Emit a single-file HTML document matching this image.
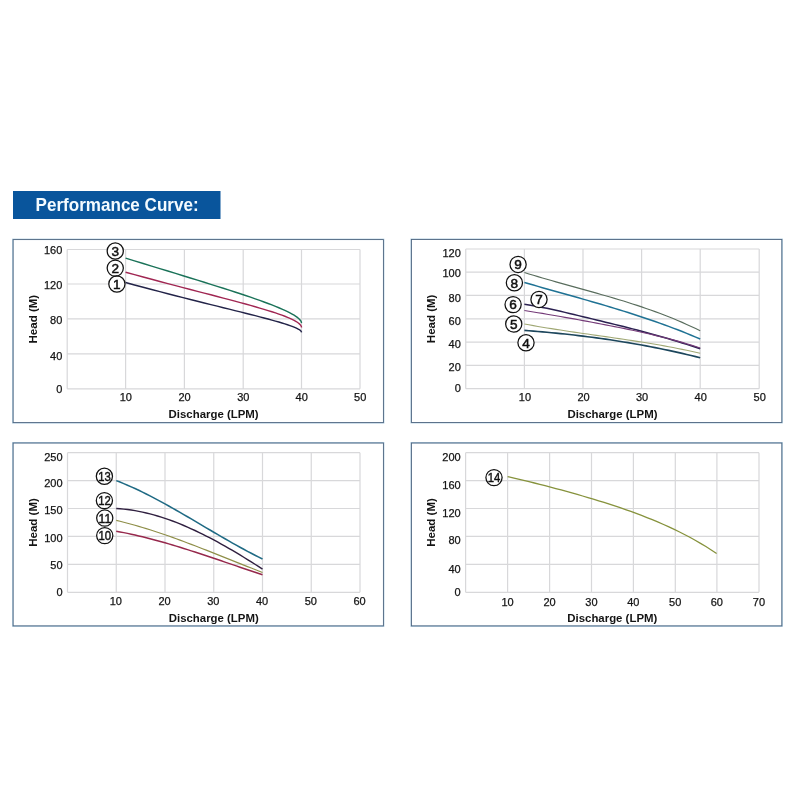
<!DOCTYPE html>
<html lang="en"><head><meta charset="utf-8"><title>Performance Curve</title>
<style>
html,body{margin:0;padding:0;background:#fff;}
body{width:800px;height:800px;overflow:hidden;}
svg{display:block;font-family:"Liberation Sans",sans-serif;}
</style></head><body>
<svg width="800" height="800" viewBox="0 0 800 800">
<rect width="800" height="800" fill="#ffffff"/>
<rect x="13" y="191" width="207.5" height="28" fill="#09559c"/>
<text x="35.6" y="211" font-size="18.2" font-weight="bold" fill="#f4fbff" textLength="163" lengthAdjust="spacingAndGlyphs">Performance Curve:</text>
<rect x="12.85" y="239.35" width="370.80" height="183.50" fill="#fff" stroke="#a9c8dc" stroke-width="1.4"/>
<rect x="13.10" y="239.60" width="370.30" height="183.00" fill="none" stroke="#4f647e" stroke-width="0.85"/>
<path d="M67.20 249.50V388.80M125.60 249.50V388.80M184.40 249.50V388.80M243.20 249.50V388.80M301.50 249.50V388.80M360.00 249.50V388.80M67.20 249.50H360.00M67.20 284.00H360.00M67.20 318.90H360.00M67.20 353.90H360.00M67.20 388.80H360.00" stroke="#d8d8da" stroke-width="1.2" fill="none"/>
<text x="62.30" y="254.10" text-anchor="end" font-size="11" fill="#141414" stroke="#141414" stroke-width="0.25">160</text>
<text x="62.30" y="288.55" text-anchor="end" font-size="11" fill="#141414" stroke="#141414" stroke-width="0.25">120</text>
<text x="62.30" y="324.05" text-anchor="end" font-size="11" fill="#141414" stroke="#141414" stroke-width="0.25">80</text>
<text x="62.30" y="359.75" text-anchor="end" font-size="11" fill="#141414" stroke="#141414" stroke-width="0.25">40</text>
<text x="62.30" y="392.55" text-anchor="end" font-size="11" fill="#141414" stroke="#141414" stroke-width="0.25">0</text>
<text x="125.75" y="401.30" text-anchor="middle" font-size="11" fill="#141414" stroke="#141414" stroke-width="0.25">10</text>
<text x="184.55" y="401.30" text-anchor="middle" font-size="11" fill="#141414" stroke="#141414" stroke-width="0.25">20</text>
<text x="243.35" y="401.30" text-anchor="middle" font-size="11" fill="#141414" stroke="#141414" stroke-width="0.25">30</text>
<text x="301.65" y="401.30" text-anchor="middle" font-size="11" fill="#141414" stroke="#141414" stroke-width="0.25">40</text>
<text x="360.15" y="401.30" text-anchor="middle" font-size="11" fill="#141414" stroke="#141414" stroke-width="0.25">50</text>
<text x="213.60" y="418.20" text-anchor="middle" font-size="11.5" font-weight="bold" fill="#141414" textLength="90" lengthAdjust="spacingAndGlyphs">Discharge (LPM)</text>
<text transform="translate(36.75 319.15) rotate(-90)" text-anchor="middle" font-size="11.5" font-weight="bold" fill="#141414" textLength="48.6" lengthAdjust="spacingAndGlyphs">Head (M)</text>
<path d="M125.60 282.53 L134.50 284.96 L143.18 287.29 L151.62 289.53 L159.83 291.68 L167.81 293.75 L175.56 295.75 L183.08 297.66 L190.36 299.50 L197.42 301.27 L204.24 302.98 L210.83 304.61 L217.19 306.19 L223.32 307.70 L229.22 309.16 L234.89 310.57 L240.32 311.92 L245.53 313.22 L250.50 314.47 L255.24 315.67 L259.75 316.83 L264.03 317.95 L268.08 319.03 L271.89 320.07 L275.48 321.07 L278.83 322.03 L281.96 322.96 L284.85 323.85 L287.51 324.72 L289.94 325.55 L292.13 326.35 L294.10 327.12 L295.83 327.86 L297.34 328.58 L298.61 329.26 L299.65 329.92 L300.46 330.56 L301.04 331.16 L301.38 331.75 L301.50 332.30" stroke="#222348" stroke-width="1.40" fill="none" stroke-linejoin="round"/>
<path d="M125.60 272.27 L134.50 274.69 L143.18 277.03 L151.62 279.29 L159.83 281.47 L167.81 283.58 L175.56 285.61 L183.08 287.57 L190.36 289.47 L197.42 291.31 L204.24 293.08 L210.83 294.80 L217.19 296.46 L223.32 298.07 L229.22 299.63 L234.89 301.14 L240.32 302.61 L245.53 304.03 L250.50 305.41 L255.24 306.75 L259.75 308.06 L264.03 309.33 L268.08 310.56 L271.89 311.76 L275.48 312.93 L278.83 314.07 L281.96 315.19 L284.85 316.27 L287.51 317.33 L289.94 318.37 L292.13 319.38 L294.10 320.37 L295.83 321.33 L297.34 322.28 L298.61 323.20 L299.65 324.10 L300.46 324.98 L301.04 325.85 L301.38 326.69 L301.50 327.51" stroke="#a02652" stroke-width="1.40" fill="none" stroke-linejoin="round"/>
<path d="M125.60 258.12 L134.50 260.85 L143.18 263.51 L151.62 266.09 L159.83 268.60 L167.81 271.04 L175.56 273.41 L183.08 275.72 L190.36 277.96 L197.42 280.14 L204.24 282.25 L210.83 284.31 L217.19 286.31 L223.32 288.26 L229.22 290.15 L234.89 291.99 L240.32 293.77 L245.53 295.51 L250.50 297.20 L255.24 298.84 L259.75 300.43 L264.03 301.98 L268.08 303.49 L271.89 304.95 L275.48 306.37 L278.83 307.75 L281.96 309.09 L284.85 310.39 L287.51 311.65 L289.94 312.88 L292.13 314.06 L294.10 315.21 L295.83 316.33 L297.34 317.40 L298.61 318.45 L299.65 319.45 L300.46 320.43 L301.04 321.36 L301.38 322.27 L301.50 323.14" stroke="#1a7258" stroke-width="1.40" fill="none" stroke-linejoin="round"/>
<circle cx="115.25" cy="251.00" r="8.1" fill="#fff"/>
<circle cx="115.25" cy="268.10" r="8.1" fill="#fff"/>
<circle cx="116.90" cy="284.00" r="8.1" fill="#fff"/>
<circle cx="115.25" cy="251.00" r="8.1" fill="none" stroke="#111" stroke-width="1.25"/>
<text x="115.25" y="255.85" text-anchor="middle" font-size="13.6" fill="#111" stroke="#111" stroke-width="0.5">3</text>
<circle cx="115.25" cy="268.10" r="8.1" fill="none" stroke="#111" stroke-width="1.25"/>
<text x="115.25" y="272.95" text-anchor="middle" font-size="13.6" fill="#111" stroke="#111" stroke-width="0.5">2</text>
<circle cx="116.90" cy="284.00" r="8.1" fill="none" stroke="#111" stroke-width="1.25"/>
<text x="116.90" y="288.85" text-anchor="middle" font-size="13.6" fill="#111" stroke="#111" stroke-width="0.5">1</text>
<rect x="411.15" y="239.25" width="370.95" height="183.45" fill="#fff" stroke="#a9c8dc" stroke-width="1.4"/>
<rect x="411.40" y="239.50" width="370.45" height="182.95" fill="none" stroke="#4f647e" stroke-width="0.85"/>
<path d="M465.75 249.00V388.70M524.40 249.00V388.70M583.00 249.00V388.70M641.60 249.00V388.70M700.20 249.00V388.70M759.20 249.00V388.70M465.75 249.00H759.20M465.75 272.20H759.20M465.75 295.40H759.20M465.75 318.80H759.20M465.75 342.20H759.20M465.75 365.30H759.20M465.75 388.70H759.20" stroke="#d8d8da" stroke-width="1.2" fill="none"/>
<text x="460.85" y="256.70" text-anchor="end" font-size="11" fill="#141414" stroke="#141414" stroke-width="0.25">120</text>
<text x="460.85" y="276.80" text-anchor="end" font-size="11" fill="#141414" stroke="#141414" stroke-width="0.25">100</text>
<text x="460.85" y="301.95" text-anchor="end" font-size="11" fill="#141414" stroke="#141414" stroke-width="0.25">80</text>
<text x="460.85" y="324.95" text-anchor="end" font-size="11" fill="#141414" stroke="#141414" stroke-width="0.25">60</text>
<text x="460.85" y="347.70" text-anchor="end" font-size="11" fill="#141414" stroke="#141414" stroke-width="0.25">40</text>
<text x="460.85" y="371.35" text-anchor="end" font-size="11" fill="#141414" stroke="#141414" stroke-width="0.25">20</text>
<text x="460.85" y="392.45" text-anchor="end" font-size="11" fill="#141414" stroke="#141414" stroke-width="0.25">0</text>
<text x="524.90" y="401.20" text-anchor="middle" font-size="11" fill="#141414" stroke="#141414" stroke-width="0.25">10</text>
<text x="583.50" y="401.20" text-anchor="middle" font-size="11" fill="#141414" stroke="#141414" stroke-width="0.25">20</text>
<text x="642.10" y="401.20" text-anchor="middle" font-size="11" fill="#141414" stroke="#141414" stroke-width="0.25">30</text>
<text x="700.70" y="401.20" text-anchor="middle" font-size="11" fill="#141414" stroke="#141414" stroke-width="0.25">40</text>
<text x="759.70" y="401.20" text-anchor="middle" font-size="11" fill="#141414" stroke="#141414" stroke-width="0.25">50</text>
<text x="612.48" y="418.10" text-anchor="middle" font-size="11.5" font-weight="bold" fill="#141414" textLength="90" lengthAdjust="spacingAndGlyphs">Discharge (LPM)</text>
<text transform="translate(435.05 318.85) rotate(-90)" text-anchor="middle" font-size="11.5" font-weight="bold" fill="#141414" textLength="48.6" lengthAdjust="spacingAndGlyphs">Head (M)</text>
<path d="M524.40 272.50 L528.91 273.91 L533.42 275.29 L537.92 276.64 L542.43 277.97 L546.94 279.28 L551.45 280.58 L555.95 281.86 L560.46 283.13 L564.97 284.38 L569.48 285.64 L573.98 286.88 L578.49 288.13 L583.00 289.38 L587.51 290.63 L592.02 291.88 L596.52 293.15 L601.03 294.43 L605.54 295.72 L610.05 297.03 L614.55 298.36 L619.06 299.71 L623.57 301.08 L628.08 302.48 L632.58 303.91 L637.09 305.38 L641.60 306.88 L646.11 308.42 L650.62 309.99 L655.12 311.61 L659.63 313.28 L664.14 314.99 L668.65 316.76 L673.15 318.58 L677.66 320.45 L682.17 322.38 L686.68 324.38 L691.18 326.44 L695.69 328.56 L700.20 330.76" stroke="#586c5c" stroke-width="1.10" fill="none" stroke-linejoin="round"/>
<path d="M524.40 282.50 L528.91 283.80 L533.42 285.09 L537.92 286.38 L542.43 287.66 L546.94 288.93 L551.45 290.20 L555.95 291.47 L560.46 292.74 L564.97 294.00 L569.48 295.27 L573.98 296.55 L578.49 297.82 L583.00 299.10 L587.51 300.39 L592.02 301.69 L596.52 303.00 L601.03 304.32 L605.54 305.65 L610.05 307.00 L614.55 308.36 L619.06 309.74 L623.57 311.13 L628.08 312.55 L632.58 313.99 L637.09 315.45 L641.60 316.93 L646.11 318.44 L650.62 319.97 L655.12 321.53 L659.63 323.13 L664.14 324.75 L668.65 326.40 L673.15 328.09 L677.66 329.81 L682.17 331.57 L686.68 333.36 L691.18 335.20 L695.69 337.07 L700.20 338.99" stroke="#1f7294" stroke-width="1.50" fill="none" stroke-linejoin="round"/>
<path d="M524.40 304.34 L528.91 304.98 L533.42 305.71 L537.92 306.53 L542.43 307.40 L546.94 308.33 L551.45 309.30 L555.95 310.30 L560.46 311.34 L564.97 312.39 L569.48 313.45 L573.98 314.53 L578.49 315.61 L583.00 316.70 L587.51 317.79 L592.02 318.88 L596.52 319.97 L601.03 321.06 L605.54 322.16 L610.05 323.26 L614.55 324.37 L619.06 325.48 L623.57 326.60 L628.08 327.74 L632.58 328.89 L637.09 330.05 L641.60 331.23 L646.11 332.44 L650.62 333.66 L655.12 334.91 L659.63 336.19 L664.14 337.49 L668.65 338.82 L673.15 340.17 L677.66 341.55 L682.17 342.95 L686.68 344.38 L691.18 345.82 L695.69 347.28 L700.20 348.75" stroke="#2a2050" stroke-width="1.50" fill="none" stroke-linejoin="round"/>
<path d="M524.40 310.55 L528.91 311.25 L533.42 311.97 L537.92 312.70 L542.43 313.44 L546.94 314.20 L551.45 314.97 L555.95 315.74 L560.46 316.53 L564.97 317.33 L569.48 318.13 L573.98 318.94 L578.49 319.76 L583.00 320.59 L587.51 321.42 L592.02 322.27 L596.52 323.12 L601.03 323.98 L605.54 324.84 L610.05 325.72 L614.55 326.61 L619.06 327.51 L623.57 328.43 L628.08 329.36 L632.58 330.31 L637.09 331.27 L641.60 332.26 L646.11 333.27 L650.62 334.30 L655.12 335.35 L659.63 336.44 L664.14 337.56 L668.65 338.71 L673.15 339.90 L677.66 341.13 L682.17 342.41 L686.68 343.73 L691.18 345.10 L695.69 346.52 L700.20 348.00" stroke="#743a78" stroke-width="1.15" fill="none" stroke-linejoin="round"/>
<path d="M524.40 324.00 L528.91 324.83 L533.42 325.64 L537.92 326.42 L542.43 327.18 L546.94 327.93 L551.45 328.66 L555.95 329.38 L560.46 330.08 L564.97 330.76 L569.48 331.44 L573.98 332.11 L578.49 332.77 L583.00 333.43 L587.51 334.08 L592.02 334.72 L596.52 335.37 L601.03 336.01 L605.54 336.66 L610.05 337.31 L614.55 337.96 L619.06 338.62 L623.57 339.29 L628.08 339.97 L632.58 340.66 L637.09 341.35 L641.60 342.07 L646.11 342.79 L650.62 343.54 L655.12 344.30 L659.63 345.08 L664.14 345.89 L668.65 346.71 L673.15 347.56 L677.66 348.44 L682.17 349.34 L686.68 350.27 L691.18 351.23 L695.69 352.23 L700.20 353.25" stroke="#a0a874" stroke-width="1.10" fill="none" stroke-linejoin="round"/>
<path d="M524.40 330.38 L528.91 330.73 L533.42 331.09 L537.92 331.47 L542.43 331.86 L546.94 332.27 L551.45 332.69 L555.95 333.13 L560.46 333.59 L564.97 334.06 L569.48 334.55 L573.98 335.06 L578.49 335.59 L583.00 336.13 L587.51 336.70 L592.02 337.28 L596.52 337.88 L601.03 338.50 L605.54 339.15 L610.05 339.81 L614.55 340.49 L619.06 341.19 L623.57 341.92 L628.08 342.66 L632.58 343.43 L637.09 344.22 L641.60 345.03 L646.11 345.86 L650.62 346.72 L655.12 347.60 L659.63 348.50 L664.14 349.43 L668.65 350.38 L673.15 351.36 L677.66 352.36 L682.17 353.38 L686.68 354.44 L691.18 355.51 L695.69 356.62 L700.20 357.75" stroke="#1c465c" stroke-width="1.60" fill="none" stroke-linejoin="round"/>
<circle cx="518.10" cy="264.40" r="8.1" fill="#fff"/>
<circle cx="514.40" cy="282.75" r="8.1" fill="#fff"/>
<circle cx="539.00" cy="299.40" r="8.1" fill="#fff"/>
<circle cx="513.10" cy="304.60" r="8.1" fill="#fff"/>
<circle cx="513.75" cy="324.00" r="8.1" fill="#fff"/>
<circle cx="526.00" cy="342.75" r="8.1" fill="#fff"/>
<circle cx="518.10" cy="264.40" r="8.1" fill="none" stroke="#111" stroke-width="1.25"/>
<text x="518.10" y="269.25" text-anchor="middle" font-size="13.6" fill="#111" stroke="#111" stroke-width="0.5">9</text>
<circle cx="514.40" cy="282.75" r="8.1" fill="none" stroke="#111" stroke-width="1.25"/>
<text x="514.40" y="287.60" text-anchor="middle" font-size="13.6" fill="#111" stroke="#111" stroke-width="0.5">8</text>
<circle cx="539.00" cy="299.40" r="8.1" fill="none" stroke="#111" stroke-width="1.25"/>
<text x="539.00" y="304.25" text-anchor="middle" font-size="13.6" fill="#111" stroke="#111" stroke-width="0.5">7</text>
<circle cx="513.10" cy="304.60" r="8.1" fill="none" stroke="#111" stroke-width="1.25"/>
<text x="513.10" y="309.45" text-anchor="middle" font-size="13.6" fill="#111" stroke="#111" stroke-width="0.5">6</text>
<circle cx="513.75" cy="324.00" r="8.1" fill="none" stroke="#111" stroke-width="1.25"/>
<text x="513.75" y="328.85" text-anchor="middle" font-size="13.6" fill="#111" stroke="#111" stroke-width="0.5">5</text>
<circle cx="526.00" cy="342.75" r="8.1" fill="none" stroke="#111" stroke-width="1.25"/>
<text x="526.00" y="347.60" text-anchor="middle" font-size="13.6" fill="#111" stroke="#111" stroke-width="0.5">4</text>
<rect x="12.85" y="442.75" width="370.80" height="183.40" fill="#fff" stroke="#a9c8dc" stroke-width="1.4"/>
<rect x="13.10" y="443.00" width="370.30" height="182.90" fill="none" stroke="#4f647e" stroke-width="0.85"/>
<path d="M67.50 452.70V592.30M116.25 452.70V592.30M165.00 452.70V592.30M213.75 452.70V592.30M262.50 452.70V592.30M311.25 452.70V592.30M360.00 452.70V592.30M67.50 452.70H360.00M67.50 480.60H360.00M67.50 508.50H360.00M67.50 536.30H360.00M67.50 564.40H360.00M67.50 592.30H360.00" stroke="#d8d8da" stroke-width="1.2" fill="none"/>
<text x="62.60" y="460.85" text-anchor="end" font-size="11" fill="#141414" stroke="#141414" stroke-width="0.25">250</text>
<text x="62.60" y="487.05" text-anchor="end" font-size="11" fill="#141414" stroke="#141414" stroke-width="0.25">200</text>
<text x="62.60" y="514.35" text-anchor="end" font-size="11" fill="#141414" stroke="#141414" stroke-width="0.25">150</text>
<text x="62.60" y="541.70" text-anchor="end" font-size="11" fill="#141414" stroke="#141414" stroke-width="0.25">100</text>
<text x="62.60" y="569.05" text-anchor="end" font-size="11" fill="#141414" stroke="#141414" stroke-width="0.25">50</text>
<text x="62.60" y="596.20" text-anchor="end" font-size="11" fill="#141414" stroke="#141414" stroke-width="0.25">0</text>
<text x="115.75" y="604.80" text-anchor="middle" font-size="11" fill="#141414" stroke="#141414" stroke-width="0.25">10</text>
<text x="164.50" y="604.80" text-anchor="middle" font-size="11" fill="#141414" stroke="#141414" stroke-width="0.25">20</text>
<text x="213.25" y="604.80" text-anchor="middle" font-size="11" fill="#141414" stroke="#141414" stroke-width="0.25">30</text>
<text x="262.00" y="604.80" text-anchor="middle" font-size="11" fill="#141414" stroke="#141414" stroke-width="0.25">40</text>
<text x="310.75" y="604.80" text-anchor="middle" font-size="11" fill="#141414" stroke="#141414" stroke-width="0.25">50</text>
<text x="359.50" y="604.80" text-anchor="middle" font-size="11" fill="#141414" stroke="#141414" stroke-width="0.25">60</text>
<text x="213.75" y="621.60" text-anchor="middle" font-size="11.5" font-weight="bold" fill="#141414" textLength="90" lengthAdjust="spacingAndGlyphs">Discharge (LPM)</text>
<text transform="translate(36.75 522.50) rotate(-90)" text-anchor="middle" font-size="11.5" font-weight="bold" fill="#141414" textLength="48.6" lengthAdjust="spacingAndGlyphs">Head (M)</text>
<path d="M116.25 531.23 L120.00 531.92 L123.75 532.65 L127.50 533.41 L131.25 534.22 L135.00 535.05 L138.75 535.92 L142.50 536.82 L146.25 537.75 L150.00 538.71 L153.75 539.70 L157.50 540.72 L161.25 541.76 L165.00 542.82 L168.75 543.91 L172.50 545.02 L176.25 546.15 L180.00 547.30 L183.75 548.46 L187.50 549.64 L191.25 550.84 L195.00 552.05 L198.75 553.28 L202.50 554.51 L206.25 555.75 L210.00 557.01 L213.75 558.27 L217.50 559.54 L221.25 560.81 L225.00 562.08 L228.75 563.36 L232.50 564.64 L236.25 565.92 L240.00 567.19 L243.75 568.47 L247.50 569.74 L251.25 571.00 L255.00 572.26 L258.75 573.51 L262.50 574.75" stroke="#96284c" stroke-width="1.45" fill="none" stroke-linejoin="round"/>
<path d="M116.25 520.39 L120.00 521.28 L123.75 522.22 L127.50 523.20 L131.25 524.21 L135.00 525.26 L138.75 526.34 L142.50 527.46 L146.25 528.61 L150.00 529.78 L153.75 530.99 L157.50 532.22 L161.25 533.48 L165.00 534.77 L168.75 536.08 L172.50 537.41 L176.25 538.76 L180.00 540.13 L183.75 541.52 L187.50 542.93 L191.25 544.35 L195.00 545.79 L198.75 547.23 L202.50 548.69 L206.25 550.16 L210.00 551.64 L213.75 553.13 L217.50 554.62 L221.25 556.12 L225.00 557.62 L228.75 559.12 L232.50 560.62 L236.25 562.12 L240.00 563.62 L243.75 565.12 L247.50 566.61 L251.25 568.09 L255.00 569.57 L258.75 571.04 L262.50 572.50" stroke="#8e8e48" stroke-width="1.15" fill="none" stroke-linejoin="round"/>
<path d="M116.25 508.49 L120.00 508.74 L123.75 509.09 L127.50 509.52 L131.25 510.04 L135.00 510.65 L138.75 511.34 L142.50 512.11 L146.25 512.97 L150.00 513.90 L153.75 514.91 L157.50 515.99 L161.25 517.14 L165.00 518.37 L168.75 519.66 L172.50 521.03 L176.25 522.45 L180.00 523.95 L183.75 525.50 L187.50 527.11 L191.25 528.78 L195.00 530.51 L198.75 532.29 L202.50 534.12 L206.25 536.01 L210.00 537.94 L213.75 539.92 L217.50 541.95 L221.25 544.02 L225.00 546.13 L228.75 548.27 L232.50 550.46 L236.25 552.69 L240.00 554.94 L243.75 557.23 L247.50 559.55 L251.25 561.90 L255.00 564.28 L258.75 566.68 L262.50 569.10" stroke="#302040" stroke-width="1.40" fill="none" stroke-linejoin="round"/>
<path d="M116.25 480.60 L120.00 482.07 L123.75 483.60 L127.50 485.19 L131.25 486.85 L135.00 488.56 L138.75 490.32 L142.50 492.13 L146.25 494.00 L150.00 495.90 L153.75 497.85 L157.50 499.83 L161.25 501.85 L165.00 503.91 L168.75 505.99 L172.50 508.10 L176.25 510.23 L180.00 512.39 L183.75 514.56 L187.50 516.75 L191.25 518.94 L195.00 521.15 L198.75 523.36 L202.50 525.58 L206.25 527.80 L210.00 530.01 L213.75 532.21 L217.50 534.41 L221.25 536.60 L225.00 538.77 L228.75 540.92 L232.50 543.05 L236.25 545.16 L240.00 547.24 L243.75 549.29 L247.50 551.31 L251.25 553.29 L255.00 555.24 L258.75 557.14 L262.50 559.00" stroke="#1f6a84" stroke-width="1.55" fill="none" stroke-linejoin="round"/>
<circle cx="104.40" cy="476.25" r="8.1" fill="#fff"/>
<circle cx="104.40" cy="500.60" r="8.1" fill="#fff"/>
<circle cx="104.75" cy="518.10" r="8.1" fill="#fff"/>
<circle cx="104.75" cy="535.60" r="8.1" fill="#fff"/>
<circle cx="104.40" cy="476.25" r="8.1" fill="none" stroke="#111" stroke-width="1.25"/>
<text x="104.50" y="481.10" text-anchor="middle" font-size="13.6" fill="#111" stroke="#111" stroke-width="0.45" textLength="12.6" lengthAdjust="spacingAndGlyphs">13</text>
<circle cx="104.40" cy="500.60" r="8.1" fill="none" stroke="#111" stroke-width="1.25"/>
<text x="104.50" y="505.45" text-anchor="middle" font-size="13.6" fill="#111" stroke="#111" stroke-width="0.45" textLength="12.6" lengthAdjust="spacingAndGlyphs">12</text>
<circle cx="104.75" cy="518.10" r="8.1" fill="none" stroke="#111" stroke-width="1.25"/>
<text x="104.85" y="522.95" text-anchor="middle" font-size="13.6" fill="#111" stroke="#111" stroke-width="0.45" textLength="12.6" lengthAdjust="spacingAndGlyphs">11</text>
<circle cx="104.75" cy="535.60" r="8.1" fill="none" stroke="#111" stroke-width="1.25"/>
<text x="104.85" y="540.45" text-anchor="middle" font-size="13.6" fill="#111" stroke="#111" stroke-width="0.45" textLength="12.6" lengthAdjust="spacingAndGlyphs">10</text>
<rect x="411.15" y="442.75" width="370.95" height="183.40" fill="#fff" stroke="#a9c8dc" stroke-width="1.4"/>
<rect x="411.40" y="443.00" width="370.45" height="182.90" fill="none" stroke="#4f647e" stroke-width="0.85"/>
<path d="M465.60 452.70V592.30M507.60 452.70V592.30M549.60 452.70V592.30M591.50 452.70V592.30M633.40 452.70V592.30M675.30 452.70V592.30M716.90 452.70V592.30M759.00 452.70V592.30M465.60 452.70H759.00M465.60 480.60H759.00M465.60 508.50H759.00M465.60 536.30H759.00M465.60 564.40H759.00M465.60 592.30H759.00" stroke="#d8d8da" stroke-width="1.2" fill="none"/>
<text x="460.70" y="461.35" text-anchor="end" font-size="11" fill="#141414" stroke="#141414" stroke-width="0.25">200</text>
<text x="460.70" y="488.85" text-anchor="end" font-size="11" fill="#141414" stroke="#141414" stroke-width="0.25">160</text>
<text x="460.70" y="516.95" text-anchor="end" font-size="11" fill="#141414" stroke="#141414" stroke-width="0.25">120</text>
<text x="460.70" y="544.35" text-anchor="end" font-size="11" fill="#141414" stroke="#141414" stroke-width="0.25">80</text>
<text x="460.70" y="572.85" text-anchor="end" font-size="11" fill="#141414" stroke="#141414" stroke-width="0.25">40</text>
<text x="460.70" y="596.35" text-anchor="end" font-size="11" fill="#141414" stroke="#141414" stroke-width="0.25">0</text>
<text x="507.50" y="605.60" text-anchor="middle" font-size="11" fill="#141414" stroke="#141414" stroke-width="0.25">10</text>
<text x="549.50" y="605.60" text-anchor="middle" font-size="11" fill="#141414" stroke="#141414" stroke-width="0.25">20</text>
<text x="591.40" y="605.60" text-anchor="middle" font-size="11" fill="#141414" stroke="#141414" stroke-width="0.25">30</text>
<text x="633.30" y="605.60" text-anchor="middle" font-size="11" fill="#141414" stroke="#141414" stroke-width="0.25">40</text>
<text x="675.20" y="605.60" text-anchor="middle" font-size="11" fill="#141414" stroke="#141414" stroke-width="0.25">50</text>
<text x="716.80" y="605.60" text-anchor="middle" font-size="11" fill="#141414" stroke="#141414" stroke-width="0.25">60</text>
<text x="758.90" y="605.60" text-anchor="middle" font-size="11" fill="#141414" stroke="#141414" stroke-width="0.25">70</text>
<text x="612.30" y="622.30" text-anchor="middle" font-size="11.5" font-weight="bold" fill="#141414" textLength="90" lengthAdjust="spacingAndGlyphs">Discharge (LPM)</text>
<text transform="translate(435.05 522.50) rotate(-90)" text-anchor="middle" font-size="11.5" font-weight="bold" fill="#141414" textLength="48.6" lengthAdjust="spacingAndGlyphs">Head (M)</text>
<path d="M507.60 476.60 L512.96 477.83 L518.32 479.09 L523.68 480.37 L529.04 481.67 L534.39 483.00 L539.75 484.36 L545.11 485.73 L550.47 487.13 L555.83 488.55 L561.19 489.99 L566.55 491.45 L571.91 492.94 L577.27 494.46 L582.63 496.00 L587.98 497.57 L593.34 499.17 L598.70 500.80 L604.06 502.47 L609.42 504.18 L614.78 505.93 L620.14 507.72 L625.50 509.57 L630.86 511.46 L636.22 513.42 L641.57 515.44 L646.93 517.52 L652.29 519.68 L657.65 521.91 L663.01 524.23 L668.37 526.63 L673.73 529.14 L679.09 531.74 L684.45 534.46 L689.81 537.29 L695.16 540.24 L700.52 543.33 L705.88 546.56 L711.24 549.93 L716.60 553.46" stroke="#86923c" stroke-width="1.30" fill="none" stroke-linejoin="round"/>
<circle cx="494.00" cy="477.60" r="8.1" fill="#fff"/>
<circle cx="494.00" cy="477.60" r="8.1" fill="none" stroke="#111" stroke-width="1.25"/>
<text x="494.10" y="482.45" text-anchor="middle" font-size="13.6" fill="#111" stroke="#111" stroke-width="0.45" textLength="12.6" lengthAdjust="spacingAndGlyphs">14</text>
</svg>
</body></html>
